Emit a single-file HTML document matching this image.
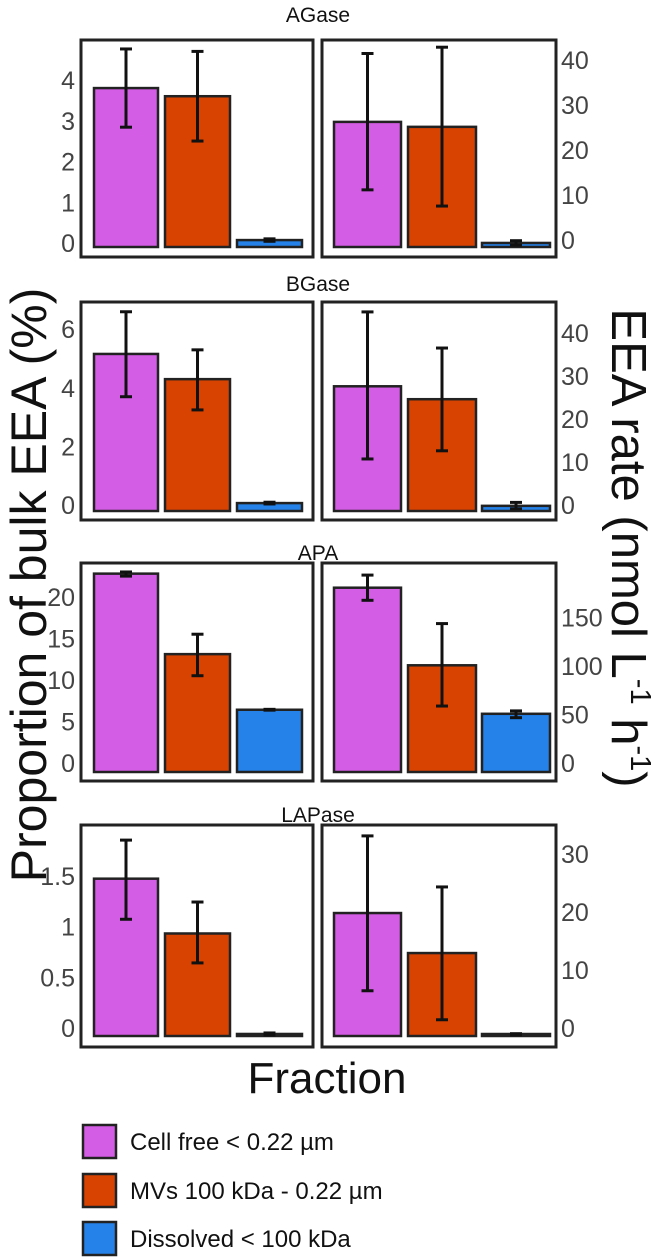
<!DOCTYPE html>
<html><head><meta charset="utf-8"><style>
html,body{margin:0;padding:0;background:#fff;}
svg{display:block;font-family:"Liberation Sans",sans-serif;}
</style></head><body>
<svg id="chart" width="657" height="1257" viewBox="0 0 657 1257" xmlns="http://www.w3.org/2000/svg">
<text x="0" y="0" transform="translate(46,585) rotate(-90)" text-anchor="middle" font-size="50" fill="#111">Proportion of bulk EEA (%)</text>
<text x="0" y="0" transform="translate(612,548) rotate(90)" text-anchor="middle" font-size="49" fill="#111">EEA rate (nmol L<tspan font-size="29" dy="-19">-1</tspan><tspan dy="19"> h</tspan><tspan font-size="29" dy="-19">-1</tspan><tspan dy="19">)</tspan></text>
<text x="327" y="1093" text-anchor="middle" font-size="44" fill="#111">Fraction</text>
<g>
<rect x="83" y="1125" width="33" height="33" fill="#d45de6" stroke="#222" stroke-width="2.5"/>
<text x="130" y="1150" font-size="24" fill="#111">Cell free &lt; 0.22 µm</text>
<rect x="83" y="1174" width="33" height="33" fill="#d94302" stroke="#222" stroke-width="2.5"/>
<text x="130" y="1199" font-size="24" fill="#111">MVs 100 kDa - 0.22 µm</text>
<rect x="83" y="1222" width="33" height="33" fill="#2482e8" stroke="#222" stroke-width="2.5"/>
<text x="130" y="1247" font-size="24" fill="#111">Dissolved &lt; 100 kDa</text>
</g>
</svg>
<script>
const enzymes = ["AGase","BGase","APA","LAPase"];
// left panels: proportion of bulk EEA (%)
const pctMean = [[3.9,3.7,0.17],[5.36,4.5,0.27],[23.9,14.2,7.5],[1.55,1.01,0.02]];
const pctLo   = [[2.94,2.6,0.14],[3.9,3.45,0.24],[23.6,11.6,7.45],[1.15,0.72,0.01]];
const pctHi   = [[4.86,4.8,0.2],[6.8,5.5,0.3],[24.1,16.6,7.55],[1.93,1.32,0.03]];
const pctTicks = [["0","1","2","3","4"],["0","2","4","6"],["0","5","10","15","20"],["0","0.5","1","1.5"]];
// right panels: EEA rate
const rateMean = [[27.8,26.7,0.9],[29,26,1.2],[190,110,60],[21.2,14.3,0.3]];
const rateLo   = [[12.7,9.1,0.4],[12.1,14,0.5],[177,68,56],[7.8,2.8,0.2]];
const rateHi   = [[43,44.4,1.4],[46.3,37.9,2],[203,153,63],[34.5,25.7,0.4]];
const rateTicks = [["0","10","20","30","40"],["0","10","20","30","40"],["0","50","100","150"],["0","10","20","30"]];

const colors=["#d45de6","#d94302","#2482e8"];
const fracNames=["cell-free","mvs","dissolved"];
const NS="http://www.w3.org/2000/svg";
const svg=document.getElementById("chart");
const rows=[
 {top:40,bot:257,base:247,kL:40.75,kR:4.5,offL:-4,offR:-7,title:14},
 {top:302,bot:520,base:511,kL:29.3,kR:4.3,offL:-6,offR:-6,title:283},
 {top:563,bot:781,base:772,kL:8.3,kR:0.97,offL:-9,offR:-9,title:552},
 {top:825,bot:1047,base:1036,kL:101.5,kR:5.8,offL:-8,offR:-8,title:814}
];
const frames=[{x0:81,x1:313,bars:[[94,158],[165,230],[237,302]]},{x0:322,x1:556,bars:[[334,401],[408,476],[482,550]]}];
function mk(tag,attrs,parent){const e=document.createElementNS(NS,tag);for(const k in attrs)e.setAttribute(k,attrs[k]);(parent||svg).appendChild(e);return e;}
enzymes.forEach((enz,r)=>{
  const R=rows[r];
  const t=mk("text",{x:318,y:R.title+8,"text-anchor":"middle","font-size":"21",fill:"#111"});
  
  
  t.textContent=enz;
  [0,1].forEach(side=>{
    const F=frames[side];
    const k=side===0?R.kL:R.kR;
    const yS=v=>R.base-v*k;
    const mean=side===0?pctMean[r]:rateMean[r];
    const lo=side===0?pctLo[r]:rateLo[r];
    const hi=side===0?pctHi[r]:rateHi[r];
    const ticks=side===0?pctTicks[r]:rateTicks[r];
    const g=mk("g",{});
    
    
    const fr=mk("rect",{x:F.x0,y:R.top,width:F.x1-F.x0,height:R.bot-R.top,fill:"none",stroke:"#222","stroke-width":"3"},g);
    
    
    mean.forEach((v,i)=>{
      const b=F.bars[i];
      const yt=Math.min(yS(v),R.base-2);
      const rc=mk("rect",{x:b[0],y:yt,width:b[1]-b[0],height:R.base-yt,fill:colors[i],stroke:"#222","stroke-width":"2.5"},g);
      
      
      const cx=(b[0]+b[1])/2;
      const eg=mk("g",{stroke:"#111","stroke-width":"3",fill:"none"},g);
      
      
      mk("line",{x1:cx,x2:cx,y1:yS(hi[i]),y2:yS(lo[i])},eg);
      mk("line",{x1:cx-6,x2:cx+6,y1:yS(hi[i]),y2:yS(hi[i])},eg);
      mk("line",{x1:cx-6,x2:cx+6,y1:yS(lo[i]),y2:yS(lo[i])},eg);
    });
    ticks.forEach(lbl=>{
      const v=parseFloat(lbl);
      const y=yS(v)+(side===0?R.offL:R.offR);
      const tx=mk("text",{x:side===0?75:561,y:y+9,"text-anchor":side===0?"end":"start","font-size":"25",fill:"#444"},g);
      
      
      tx.textContent=lbl;
    });
  });
});
</script>
</body></html>
